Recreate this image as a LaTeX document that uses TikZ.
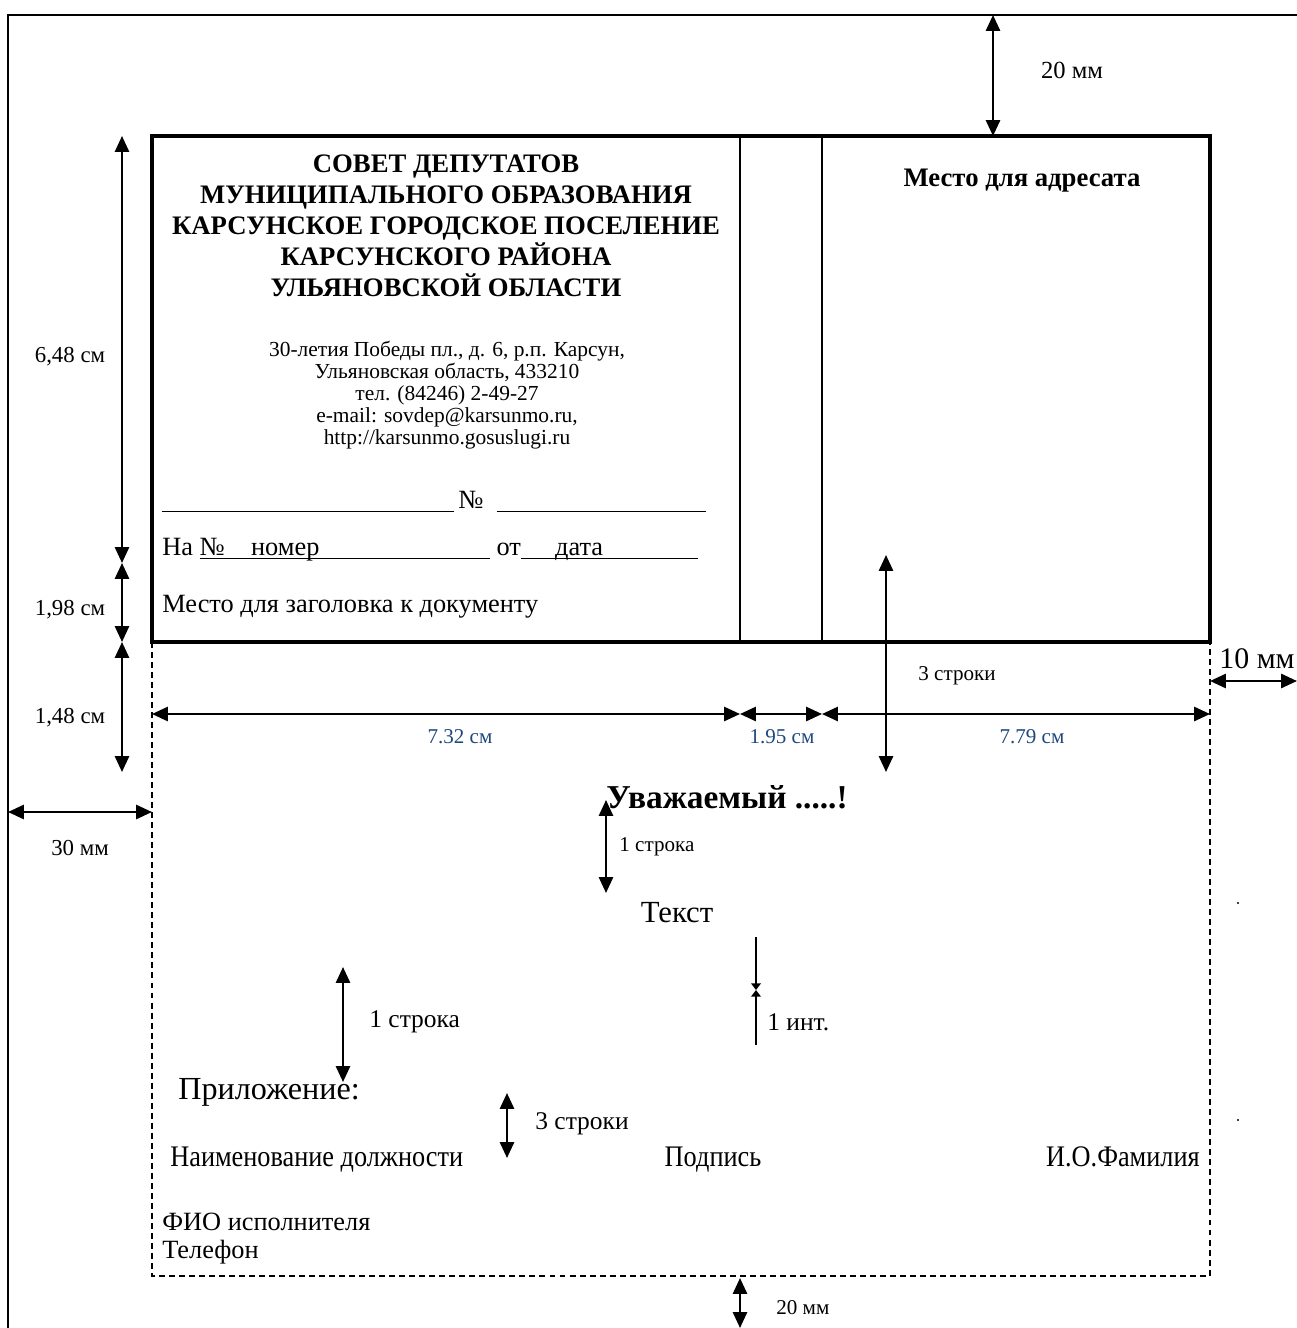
\documentclass[tikz,border=0pt]{standalone}
\usepackage{fontspec}
\setmainfont{Liberation Serif}
\newfontfamily\narrowfont[FakeStretch=0.88]{Liberation Serif}
\usetikzlibrary{arrows.meta, positioning}
\definecolor{dimblue}{RGB}{31,73,125}
\newsavebox\ulbox
\newcommand\lineunder[1]{\sbox\ulbox{#1}\rlap{\rule[-2.4pt]{\wd\ulbox}{0.6pt}}\usebox\ulbox}
\newcommand\blankline[1]{\rule[-2.4pt]{#1}{0.6pt}}

\begin{document}
\begin{tikzpicture}[
        x = 0.02cm, y = -0.02cm,
      dim/.style = {{Triangle[length=9pt,width=8pt]}-{Triangle[length=9pt,width=8pt]},
                    line width=1.3pt},
  halfdim/.style = {-{Triangle[length=3.8pt,width=5.5pt]}, line width=1.3pt},
     page/.style = {line width=1.2pt},
    blank/.style = {line width=1.8pt},
  divider/.style = {line width=0.9pt},
   margin/.style = {line width=0.9pt, dash pattern=on 3.4pt off 2.3pt},
      hdr/.style = {font=\fontsize{15.2}{17.7}\selectfont\bfseries,
                    align=center, inner sep=0pt},
     addr/.style = {font=\fontsize{12.2}{12.6}\selectfont, align=center, inner sep=0pt},
     line/.style = {font=\fontsize{15}{17}\selectfont, anchor=base west, inner sep=0pt},
      lbl/.style = {font=\fontsize{12}{14}\selectfont, inner sep=0pt},
  bluelbl/.style = {lbl, text=dimblue},
     body/.style = {font=\fontsize{17.5}{20}\selectfont, inner sep=0pt},
   narrow/.style = {font=\fontsize{17}{20}\narrowfont, anchor=base, inner sep=0pt}
                    ]
\useasboundingbox (0,0) rectangle (1297,1328);
% page and blank
\coordinate (pg-sw) at (8,1328);
\coordinate (pg-nw) at (8,15);
\coordinate (pg-ne) at (1297,15);
\coordinate (bl-nw) at (152,136);
\coordinate (bl-se) at (1210,642);
\coordinate (bl-sw) at (152,642);
\coordinate (mg-sw) at (152,1276);
\coordinate (mg-se) at (1210,1276);
\draw[page] (pg-sw) -- (pg-nw) -- (pg-ne);
\draw[blank] (bl-nw) rectangle (bl-se);
\draw[divider] (740,136) -- (740,642);
\draw[divider] (822,136) -- (822,642);
\draw[margin] (bl-sw) -- (mg-sw) -- (mg-se) -- (bl-se);

% texts of the blank
\node (org) [hdr] at (446,226) {СОВЕТ ДЕПУТАТОВ\\
    МУНИЦИПАЛЬНОГО ОБРАЗОВАНИЯ\\
    КАРСУНСКОЕ ГОРОДСКОЕ ПОСЕЛЕНИЕ\\
    КАРСУНСКОГО РАЙОНА\\
    УЛЬЯНОВСКОЙ ОБЛАСТИ};
\node (adr) [addr] at (447,395) {30-летия Победы пл., д. 6, р.п. Карсун,\\
    Ульяновская область, 433210\\
    тел. (84246) 2-49-27\\
    e-mail: sovdep@karsunmo.ru,\\
    http://karsunmo.gosuslugi.ru};
\node (regno) [line] at (162,508) {\blankline{166pt}\,№\hspace{0.5em}\blankline{119pt}};
\node (reply) [line] at (162,555) {На \lineunder{№\quad номер}\blankline{97pt}
    от\lineunder{\hspace{1.3em}дата}\blankline{54pt}};
\node (title) [line] at (162,612) {Место для заголовка к документу};
\node (addressee) [hdr] at (1022,181) {Место для адресата};

% sizes
\coordinate (t20a) at (993,15);
\coordinate (t20b) at (993,136);
\draw[dim] (t20a) -- (t20b);
\node (t20) [lbl, font=\fontsize{14}{16}\selectfont] at (1072,70) {20 мм};

\coordinate (v1) at (122,136);
\coordinate (v2) at (122,563);
\coordinate (v3) at (122,642);
\coordinate (v4) at (122,772);
\draw[dim] (v1) -- (v2);
\draw[dim] (v2) -- (v3);
\draw[dim] (v3) -- (v4);
\node (s648) [lbl, font=\fontsize{13}{15}\selectfont] at (70,357) {6,48 см};
\node (s198) [lbl, font=\fontsize{13}{15}\selectfont] at (70,610) {1,98 см};
\node (s148) [lbl, font=\fontsize{13}{15}\selectfont] at (70,718) {1,48 см};

\coordinate (l30a) at (8,812);
\coordinate (l30b) at (152,812);
\draw[dim] (l30a) -- (l30b);
\node (l30) [lbl, font=\fontsize{13}{15}\selectfont] at (80,848) {30 мм};

\coordinate (h1) at (152,714);
\coordinate (h2) at (740,714);
\coordinate (h3) at (822,714);
\coordinate (h4) at (1210,714);
\draw[dim] (h1) -- (h2);
\draw[dim] (h2) -- (h3);
\draw[dim] (h3) -- (h4);
\node (w732) [bluelbl] at (460,737) {7.32 см};
\node (w195) [bluelbl] at (782,737) {1.95 см};
\node (w779) [bluelbl] at (1032,737) {7.79 см};

\coordinate (r10a) at (1210,681);
\coordinate (r10b) at (1297,681);
\draw[dim] (r10a) -- (r10b);
\node (r10) [lbl, font=\fontsize{17}{19}\selectfont] at (1257,659) {10 мм};

\coordinate (gap3a) at (886,555);
\coordinate (gap3b) at (886,772);
\draw[dim] (gap3a) -- (gap3b);
\node (gap3) [lbl] at (957,676) {3 строки};

% letter body
\node (greet) [body, font=\fontsize{19}{22}\selectfont\bfseries] at (727,797)
    {Уважаемый .....!};
\coordinate (gap1a) at (606,800);
\coordinate (gap1b) at (606,893);
\draw[dim] (gap1a) -- (gap1b);
\node (gap1) [lbl, anchor=west] at (619,847) {1 строка};
\node (text) [body] at (677,913) {Текст};

\coordinate (inta) at (756,937);
\coordinate (intm) at (756,990);
\coordinate (intb) at (756,1045);
\draw[halfdim] (inta) -- (intm);
\draw[halfdim] (intb) -- (intm);
\node (int) [lbl, font=\fontsize{14.5}{16}\selectfont, anchor=west] at (767,1022) {1 инт.};

\coordinate (gap1c) at (343,967);
\coordinate (gap1d) at (343,1082);
\draw[dim] (gap1c) -- (gap1d);
\node (gap1l) [lbl, font=\fontsize{14.5}{16}\selectfont, anchor=west] at (369,1022)
    {1 строка};
\node (annex) [body, font=\fontsize{18.3}{21}\selectfont, anchor=west] at (178,1092)
    {Приложение:};

\coordinate (gap3c) at (507,1093);
\coordinate (gap3d) at (507,1158);
\draw[dim] (gap3c) -- (gap3d);
\node (gap3l) [lbl, font=\fontsize{14.5}{16}\selectfont, anchor=west] at (535,1124)
    {3 строки};

\node (post) [narrow, anchor=base west] at (170,1166) {Наименование должности};
\node (sign) [narrow] at (713,1166) {Подпись};
\node (name) [narrow, anchor=base east] at (1200,1166) {И.О.Фамилия};

\node (exec) [line] at (162,1230) {ФИО исполнителя};
\node (phone) [line] at (162,1258) {Телефон};

\coordinate (b20a) at (740,1278);
\coordinate (b20b) at (740,1328);
\draw[dim] (b20a) -- (b20b);
\node (b20) [lbl, anchor=west] at (776,1308) {20 мм};

\fill (1238,903) circle (1.1);
\fill (1238,1120) circle (1.1);
\end{tikzpicture}
\end{document}
